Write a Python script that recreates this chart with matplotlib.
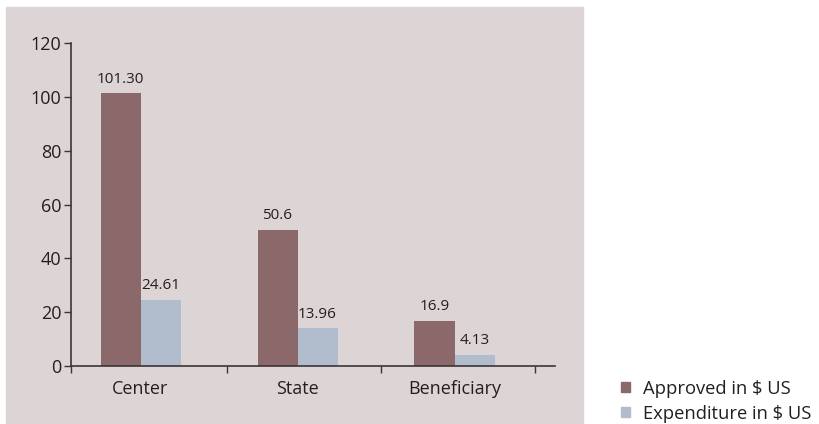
import matplotlib
matplotlib.use("Agg")
import matplotlib.pyplot as plt
from matplotlib.patches import Rectangle, Patch

categories = ["Center", "State", "Beneficiary"]
approved = [101.30, 50.6, 16.9]
expenditure = [24.61, 13.96, 4.13]
approved_labels = ["101.30", "50.6", "16.9"]
expenditure_labels = ["24.61", "13.96", "4.13"]
series_names = ["Approved in $ US", "Expenditure in $ US"]

APPROVED_COLOR = "#8b686a"
EXPEND_COLOR = "#b1bccd"
PANEL_COLOR = "#ddd5d5"
AXIS_COLOR = "#3a3536"
TEXT_COLOR = "#231f20"

plt.rcParams["font.family"] = ["Open Sans", "DejaVu Sans"]

W, H = 820, 424
fig = plt.figure(figsize=(W / 100, H / 100), dpi=100)

# grey panel behind the plot
fig.patches.append(Rectangle((6 / W, 1 - 423 / H), 577 / W, 416 / H,
                             transform=fig.transFigure, color=PANEL_COLOR,
                             zorder=-1))

ax = fig.add_axes([71 / W, 1 - 366 / H, (555 - 71) / W, (366 - 43) / H])
ax.set_facecolor("none")
ax.set_zorder(1)

width = 0.255
x = list(range(len(categories)))
ax.bar([i - width / 2 for i in x], approved, width, color=APPROVED_COLOR)
ax.bar([i + width / 2 for i in x], expenditure, width, color=EXPEND_COLOR)

for i in x:
    ax.text(i - width / 2, approved[i] + 2.5, approved_labels[i],
            ha="center", va="bottom", fontsize=11, color=TEXT_COLOR)
    ax.text(i + width / 2, expenditure[i] + 2.5, expenditure_labels[i],
            ha="center", va="bottom", fontsize=11, color=TEXT_COLOR)

ax.set_xlim(-0.443, 2.64)
ax.set_ylim(0, 120)
ax.set_yticks(range(0, 121, 20))

ax.set_xticks(x)
ax.set_xticklabels(categories)
ax.set_xticks([-0.443, 0.551, 1.53, 2.51], minor=True)
ax.tick_params(axis="x", which="major", length=0, pad=10, labelsize=13,
               labelcolor=TEXT_COLOR)
ax.tick_params(axis="x", which="minor", length=5, width=1, color=AXIS_COLOR,
               direction="out")
ax.tick_params(axis="y", length=5, width=1, color=AXIS_COLOR, pad=2,
               labelsize=13, labelcolor=TEXT_COLOR)

for side in ["top", "right"]:
    ax.spines[side].set_visible(False)
for side in ["left", "bottom"]:
    ax.spines[side].set_color(AXIS_COLOR)
    ax.spines[side].set_linewidth(1.2)

handles = [Patch(color=APPROVED_COLOR), Patch(color=EXPEND_COLOR)]
fig.legend(handles, series_names, loc="lower left",
           bbox_to_anchor=(614 / W, -6 / H), frameon=False, fontsize=13.2,
           handlelength=0.45, handleheight=0.45, handletextpad=0.75,
           labelspacing=0.38, labelcolor=TEXT_COLOR, borderaxespad=0)

fig.savefig("out.png", dpi=100)
